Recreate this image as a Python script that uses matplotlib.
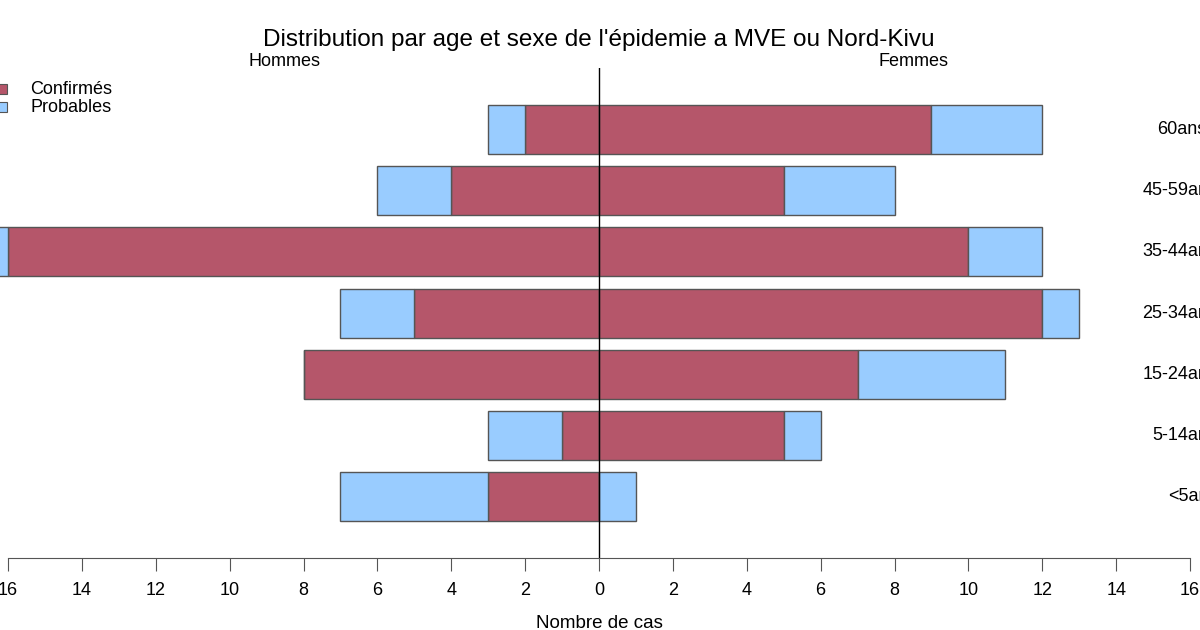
"""Pyramide des ages, epidemie MVE Nord-Kivu"""

import matplotlib
matplotlib.use('Agg')
import matplotlib.pyplot as plt
from matplotlib.patches import Rectangle

plt.rcParams['font.family'] = ['Liberation Sans', 'DejaVu Sans']

# Donnees #
lAges = ['<5ans', '5-14ans', '15-24ans', '25-34ans', '35-44ans', '45-59ans', '60ans+']
lHomConf = [3, 1, 8, 5, 16, 4, 2]
lHomProb = [4, 2, 0, 2, 1, 2, 1]
lFemConf = [0, 5, 7, 12, 10, 5, 9]
lFemProb = [1, 1, 4, 1, 2, 3, 3]
lTicks = list(range(-16, 17, 2))

sConf = '#B5566A'
sProb = '#99CCFF'
sEdge = '#555555'
nFont = 13

fig = plt.figure(figsize=(12, 6.3), dpi=100)
ax = fig.add_axes([8/1200, 1 - 558/630, 1182/1200, (558 - 68)/630])

aY = list(range(1, len(lAges) + 1))
hBar = 0.8

# Hommes a gauche (valeurs negatives), femmes a droite
lBars = []
lBars += ax.barh(aY, [-v for v in lHomConf], height=hBar, color=sConf, edgecolor=sEdge, lw=1)
lBars += ax.barh(aY, [-v for v in lHomProb], left=[-v for v in lHomConf], height=hBar,
	color=sProb, edgecolor=sEdge, lw=1)
lBars += ax.barh(aY, lFemConf, height=hBar, color=sConf, edgecolor=sEdge, lw=1)
lBars += ax.barh(aY, lFemProb, left=lFemConf, height=hBar, color=sProb, edgecolor=sEdge, lw=1)
for p in lBars:
	p.set_clip_on(False)  # la barre 35-44 depasse -16

ax.axvline(0, color='black', lw=1)

ax.set_xlim(-16, 16)
ax.set_ylim(0, 8)
for s in ['top', 'right', 'left']:
	ax.spines[s].set_visible(False)
ax.spines['bottom'].set_bounds(-16, 16)
ax.spines['bottom'].set_color('#555555')
ax.set_xticks(lTicks)
ax.set_xticklabels([str(abs(t)) for t in lTicks], fontsize=nFont)
ax.tick_params(axis='x', length=9, pad=8, color='#555555')
ax.set_yticks([])
ax.set_xlabel('Nombre de cas', fontsize=nFont + 0.5, labelpad=12)

# Libelles des classes d'age a droite (coupes par le bord)
for y, sAge in zip(aY, lAges):
	ax.text(16.74, y, sAge, ha='right', va='center', fontsize=nFont, clip_on=False)

fig.text(285/1200, 1 - 62/630, 'Hommes', ha='center', va='center', fontsize=nFont)
fig.text(913/1200, 1 - 62/630, 'Femmes', ha='center', va='center', fontsize=nFont)

fig.text(599/1200, 1 - 40/630, "Distribution par age et sexe de l'épidemie a MVE ou Nord-Kivu",
	ha='center', va='center', fontsize=17.5)

# Legende a la main, en haut a gauche
for yPx, sCol, sLab in [(89, sConf, 'Confirmés'), (107, sProb, 'Probables')]:
	fig.patches.append(Rectangle((-4/1200, 1 - (yPx + 5)/630), 11/1200, 10/630,
		transform=fig.transFigure, facecolor=sCol, edgecolor=sEdge, lw=0.8))
	fig.text(30/1200, 1 - yPx/630, sLab, ha='left', va='center', fontsize=nFont)

fig.savefig('out.png', dpi=100)
